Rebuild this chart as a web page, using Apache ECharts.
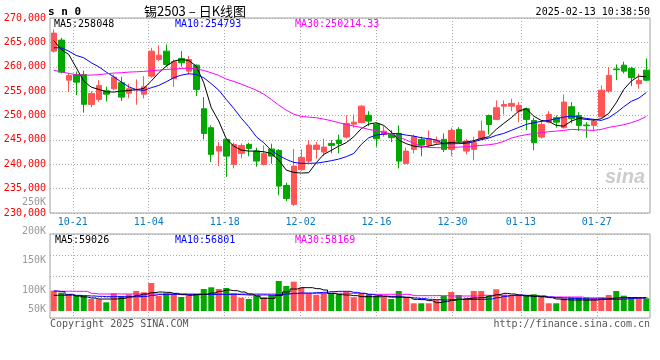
<!DOCTYPE html>
<html><head><meta charset="utf-8">
<script src="https://cdn.jsdelivr.net/npm/echarts@6/dist/echarts.min.js"></script>
<style>html,body{margin:0;padding:0;background:#fff}#c{width:660px;height:360px}</style>
</head><body><div id="c"></div><script>
// ---------- data ----------
const dates = ['10-16','10-17','10-18','10-21','10-22','10-23','10-24','10-25','10-28','10-29','10-30','10-31',
'11-01','11-04','11-05','11-06','11-07','11-08','11-11','11-12','11-13','11-14','11-15','11-18','11-19','11-20','11-21','11-22','11-25','11-26','11-27','11-28','11-29',
'12-02','12-03','12-04','12-05','12-06','12-09','12-10','12-11','12-12','12-13','12-16','12-17','12-18','12-19','12-20','12-23','12-24','12-25','12-26','12-27','12-30','12-31',
'01-02','01-03','01-06','01-07','01-08','01-09','01-10','01-13','01-14','01-15','01-16','01-17','01-20','01-21','01-22','01-23','01-24','01-27',
'02-05','02-06','02-07','02-10','02-11','02-12','02-13'];
const opens = [263200,265470,257250,258420,258400,252270,253300,255080,255490,256720,254590,255300,254380,258070,261500,263200,257540,261700,259100,260330,
251390,247500,242700,245100,239970,242220,244070,242700,239970,243120,242840,235650,231770,238890,240650,243050,242500,244270,244960,245570,
248230,248520,250050,248230,246120,246120,246330,240170,243050,245100,243930,244420,245100,243050,247150,242700,243050,245240,250000,249200,
251920,251920,250890,251390,248980,245570,248640,249540,247500,251800,250000,248050,247970,249750,255000,259550,260330,259650,256510,259300];
const closes = [266900,258890,258200,256840,252300,254530,256170,254380,257870,253770,255490,255400,255900,263200,262380,260470,261030,260820,261500,255350,
246330,242020,243660,241670,244070,243860,243250,240650,242220,241670,235520,232980,239620,241400,243930,243930,243520,243860,244270,248370,
248640,251920,248850,245240,246800,245450,240650,242700,245650,243930,245240,244960,243050,246940,244750,244750,244420,246800,248170,251600,
252270,252480,252070,249200,244420,248170,250220,248640,252750,249340,247970,247900,248850,255200,258220,259400,259100,257750,257190,257250];
const lows = [262900,258630,254800,254180,250600,251700,252800,252900,255200,252950,253560,252200,253500,257750,261150,260000,255900,260000,258420,253970,
245100,240440,239620,237400,239150,241200,241630,239500,239760,240100,233630,232430,231430,238600,240300,241140,241670,242250,242250,245300,
247500,248370,247820,243600,245650,244540,239150,240000,242220,241630,243600,244200,242500,241670,244300,242020,240850,244960,246120,249050,
250220,250890,248640,247000,242900,245300,248370,247500,247300,248370,246800,245450,246800,249540,254660,257250,258630,256030,255490,257050];
const highs = [267650,265950,258700,259040,259200,255000,257250,255900,258420,257950,256520,257400,258070,263900,264370,264590,261500,263200,262170,260470,
253770,247970,244540,245300,244420,244270,244420,243400,243860,244200,243100,236210,243120,243050,244960,244540,245240,244960,246070,250050,
250220,252130,250890,248500,247820,247000,247970,243400,246070,245650,246940,245650,246330,247500,247600,245200,245650,248980,250200,253100,
253100,253440,252750,251600,249540,248980,250890,250000,254320,252750,250680,248640,249340,256170,260000,260470,261030,260000,258560,261700];
const ma5 = [265370,263550,262520,259790,257050,255820,255350,254870,254800,255000,255140,255280,255550,257050,258770,260120,261150,261500,261290,260120,
256720,251600,248850,245240,243720,242900,242700,242700,242570,242220,240850,238800,238330,238190,238260,240320,242020,242840,243720,244420,
245650,247290,248230,248520,247970,246600,244960,244220,243720,243520,243720,244070,244280,244480,244540,244540,244830,245300,245650,247150,
248380,249540,250900,251390,249870,248990,248790,247970,247820,248850,249400,249200,249050,249340,250430,252620,255350,257050,258070,257950];
const ma10 = [263890,263890,263200,262320,261840,260820,260000,258900,257950,256850,255900,255280,255140,255700,256170,256920,257750,258280,258560,258420,
257750,256520,255200,253300,251450,249460,247700,245650,244420,242840,241820,241000,240380,240180,240200,240230,240450,240730,241060,241550,
242220,244070,245440,245980,246180,246330,246260,245980,245770,245440,245240,244960,244220,244200,244230,244280,244620,245030,245370,245920,
246330,246940,247560,248170,248520,248790,248990,249340,249670,249870,249670,249400,249200,248990,249540,250570,251800,252890,253560,254700];
const ma30 = [259240,258970,258630,258360,258290,258290,258360,258560,258700,258770,258900,258970,259040,259180,259300,259450,259510,259650,259710,259590,
259240,258770,258220,257460,256990,256430,255820,255200,254380,253300,252130,251100,250280,249810,249670,249540,249260,248930,248520,248170,
247820,247560,247150,246880,246530,246270,245650,244960,244280,243660,243460,243400,243400,243460,243520,243590,243730,243870,244000,244220,
244690,245370,245770,246060,246330,246460,246670,246800,246940,247150,247080,247010,246940,247150,247560,247820,248110,248520,249050,249800];
const volumes = [91400,82400,75200,68900,68900,54000,52700,39200,79700,67500,75200,90000,84200,126000,67500,79700,76500,63000,68900,75200,
99000,106700,99000,103500,79700,59900,54000,68900,61700,72000,135000,112500,131900,104900,79700,72000,82400,79700,75200,86900,
61700,79700,75200,67500,61700,54000,90000,61700,34700,34700,34700,49500,67500,85500,72000,54000,90000,90000,67500,97700,
73400,72000,75200,68900,75200,64400,34700,34700,57200,61700,61700,61700,57200,61700,72000,90000,68900,57200,57200,57200];
const volMa5 = [70600,71000,72000,67500,63000,58500,54000,54000,54000,57000,63000,70500,76500,82500,85500,84000,79500,73500,70500,73500,
75000,81000,88500,94500,91500,85500,76500,67500,57000,57000,70500,85500,99000,105000,105000,100500,94500,79500,73500,72000,
69000,64500,64500,64000,64500,63000,63000,61500,52500,51000,46500,37500,42000,48000,52500,55500,58500,60000,67500,73500,
79500,76500,70500,67500,66000,64500,60000,54000,51000,49500,49500,49000,49500,52500,55500,59000,60500,60000,59500,60000];
const volMa10 = [90000,87000,75000,70500,69000,67500,66000,64500,64500,64000,64500,64500,66000,70500,73500,75000,75000,75500,75000,75000,
75000,74500,75000,75000,75000,73500,72000,72000,72500,72000,73500,76500,79500,81000,81000,82500,84000,87000,88500,88500,
84000,79500,75000,70500,67500,64500,63000,61500,58500,55500,52500,51000,49500,51000,52500,52500,52000,52500,54000,60000,
66000,70500,72000,70500,67500,64500,63000,60000,58500,57000,55500,54000,54000,54500,52500,52500,54000,57000,58500,60000];
const volMa30 = [89000,88800,89000,88600,88500,79500,76500,76500,76800,76500,76500,76500,76200,76500,76500,76500,76800,76500,76500,76500,
76500,76500,76200,76500,76500,76500,76500,76800,76500,76500,76500,78000,78000,78000,78200,78000,78000,79500,79500,79500,
79500,79500,75000,75000,75000,75200,75000,75000,69000,69000,69000,69200,69000,67500,67500,67500,67500,70500,70500,70500,
70500,69000,69000,69000,69200,69000,63000,63000,63000,63000,63000,58500,58500,58500,58500,58500,58500,58500,58500,58500];
// price axis ticks and date ticks
const priceMin = 230000, priceMax = 270000, priceStep = 5000;
const dayCount = 79;               // trading-day units spanned by the date grid
const dateTickPos = [3,13,23,33,43,53,62,72];
const dateTickLabels = ['10-21','11-04','11-18','12-02','12-16','12-30','01-13','01-27'];
const volLabelMin = 50000, volLabelMax = 250000, volLabelStep = 50000;
// texts
const symbolText = 's n 0';
const titleText = '锡2503 – 日K线图';
const timeText = '2025-02-13 10:38:50';
const priceMaLabels = ['MA5:258048','MA10:254793','MA30:250214.33'];
const volMaLabels = ['MA5:59026','MA10:56801','MA30:58169'];
const copyrightText = 'Copyright 2025 SINA.COM';
const urlText = 'http://finance.sina.com.cn';
const watermarkText = 'sina';

// ---------- chart ----------
const chart = echarts.init(document.getElementById('c'));
const mono = "'DejaVu Sans Mono', 'Liberation Mono', monospace";
const UP = '#ff5555', DOWN = '#00a800';
const maColors = ['#000000', '#0000ff', '#ff00ff'];
const candleData = dates.map((d, i) => [opens[i], closes[i], lows[i], highs[i]]);
const volData = volumes.map((v, i) => ({ value: v, itemStyle: { color: closes[i] >= opens[i] ? UP : DOWN } }));
const dotted = { show: true, lineStyle: { color: '#aaaaaa', type: [1, 2], width: 1 } };
const hiddenAxis = { axisLine: { show: false }, axisTick: { show: false }, axisLabel: { show: false }, splitLine: { show: false } };

function txt(x, y, text, color, font, align) {
  return { type: 'text', x: x, y: y, silent: true, z: 100,
    style: { text: text, fill: color, font: font, textAlign: align || 'left', align: align || 'left',
             textVerticalAlign: 'middle', verticalAlign: 'middle' } };
}

const option = {
  animation: false,
  backgroundColor: '#ffffff',
  grid: [
    { left: 50, right: 10, top: 18, height: 195, show: true, borderColor: '#a0a0a0', borderWidth: 1 },
    { left: 50, right: 10, top: 234, height: 84, show: true, borderColor: '#a0a0a0', borderWidth: 1 },
    { left: 50, right: 10, top: 202, height: 117.7, show: false }
  ],
  xAxis: [
    Object.assign({ type: 'category', gridIndex: 0, data: dates, boundaryGap: true, position: 'top' }, hiddenAxis),
    { type: 'value', gridIndex: 0, min: 0, max: dayCount, position: 'bottom',
      axisLine: { show: false },
      axisTick: { show: false, customValues: dateTickPos },
      axisLabel: { customValues: dateTickPos, color: '#0a78c8', fontFamily: mono, fontSize: 10, margin: 4,
        formatter: v => dateTickLabels[dateTickPos.indexOf(Math.round(v))] || '' },
      splitLine: dotted },
    Object.assign({ type: 'category', gridIndex: 1, data: dates, boundaryGap: true, position: 'top' }, hiddenAxis),
    { type: 'value', gridIndex: 1, min: 0, max: dayCount, position: 'bottom',
      axisLine: { show: false },
      axisTick: { show: false, customValues: dateTickPos },
      axisLabel: { show: false, customValues: dateTickPos },
      splitLine: dotted },
    Object.assign({ type: 'value', gridIndex: 2, min: 0, max: 1 }, hiddenAxis)
  ],
  yAxis: [
    { type: 'value', gridIndex: 0, min: priceMin, max: priceMax, interval: priceStep,
      axisLine: { show: false }, axisTick: { show: false },
      axisLabel: { color: '#ff0000', fontFamily: mono, fontSize: 10, margin: 4 },
      splitLine: dotted },
    Object.assign({ type: 'value', gridIndex: 1, min: -31500, max: 346500 }, hiddenAxis),
    { type: 'value', gridIndex: 1, min: 0, max: 4, interval: 1,
      axisLine: { show: false }, axisTick: { show: false }, axisLabel: { show: false }, splitLine: dotted },
    { type: 'value', gridIndex: 2, min: volLabelMin, max: volLabelMax, interval: volLabelStep,
      axisLine: { show: false }, axisTick: { show: false }, splitLine: { show: false },
      axisLabel: { color: '#999999', fontFamily: mono, fontSize: 10, margin: 4,
        formatter: v => v === volLabelMin ? '{lo|' + (v / 1000) + 'K}' : (v / 1000) + 'K',
        rich: { lo: { color: '#999999', fontFamily: mono, fontSize: 10, padding: [0, 0, 20, 0] } } } }
  ],
  series: [
    { type: 'candlestick', xAxisIndex: 0, yAxisIndex: 0, data: candleData, barWidth: 6,
      itemStyle: { color: UP, color0: DOWN, borderColor: UP, borderColor0: DOWN, borderWidth: 1 } },
    { type: 'line', xAxisIndex: 0, yAxisIndex: 0, data: ma5, symbol: 'none', lineStyle: { color: maColors[0], width: 1 }, z: 5 },
    { type: 'line', xAxisIndex: 0, yAxisIndex: 0, data: ma10, symbol: 'none', lineStyle: { color: maColors[1], width: 1 }, z: 5 },
    { type: 'line', xAxisIndex: 0, yAxisIndex: 0, data: ma30, symbol: 'none', lineStyle: { color: maColors[2], width: 1 }, z: 5 },
    { type: 'bar', xAxisIndex: 2, yAxisIndex: 1, data: volData, barWidth: 6 },
    { type: 'line', xAxisIndex: 2, yAxisIndex: 1, data: volMa30, step: 'middle', symbol: 'none', lineStyle: { color: maColors[2], width: 1 }, z: 5 },
    { type: 'line', xAxisIndex: 2, yAxisIndex: 1, data: volMa10, step: 'middle', symbol: 'none', lineStyle: { color: maColors[1], width: 1 }, z: 5 },
    { type: 'line', xAxisIndex: 2, yAxisIndex: 1, data: volMa5, step: 'middle', symbol: 'none', lineStyle: { color: maColors[0], width: 1 }, z: 5 }
  ],
  graphic: [
    txt(48, 12, symbolText, '#000000', "bold 11px " + mono),
    txt(195, 11, titleText, '#000000', "13px 'Noto Sans CJK SC'", 'center'),
    txt(650, 12, timeText, '#000000', "10px " + mono, 'right'),
    txt(54, 24, priceMaLabels[0], maColors[0], "10px " + mono),
    txt(175, 24, priceMaLabels[1], maColors[1], "10px " + mono),
    txt(295, 24, priceMaLabels[2], maColors[2], "10px " + mono),
    txt(55, 240, volMaLabels[0], maColors[0], "10px " + mono),
    txt(175, 240, volMaLabels[1], maColors[1], "10px " + mono),
    txt(295, 240, volMaLabels[2], maColors[2], "10px " + mono),
    txt(50, 324, copyrightText, '#555555', "10px " + mono),
    txt(650, 324, urlText, '#555555', "10px " + mono, 'right'),
    txt(625, 177, watermarkText, '#cccccc', "italic bold 20px 'Liberation Sans'", 'center')
  ]
};
chart.setOption(option);
</script></body></html>
